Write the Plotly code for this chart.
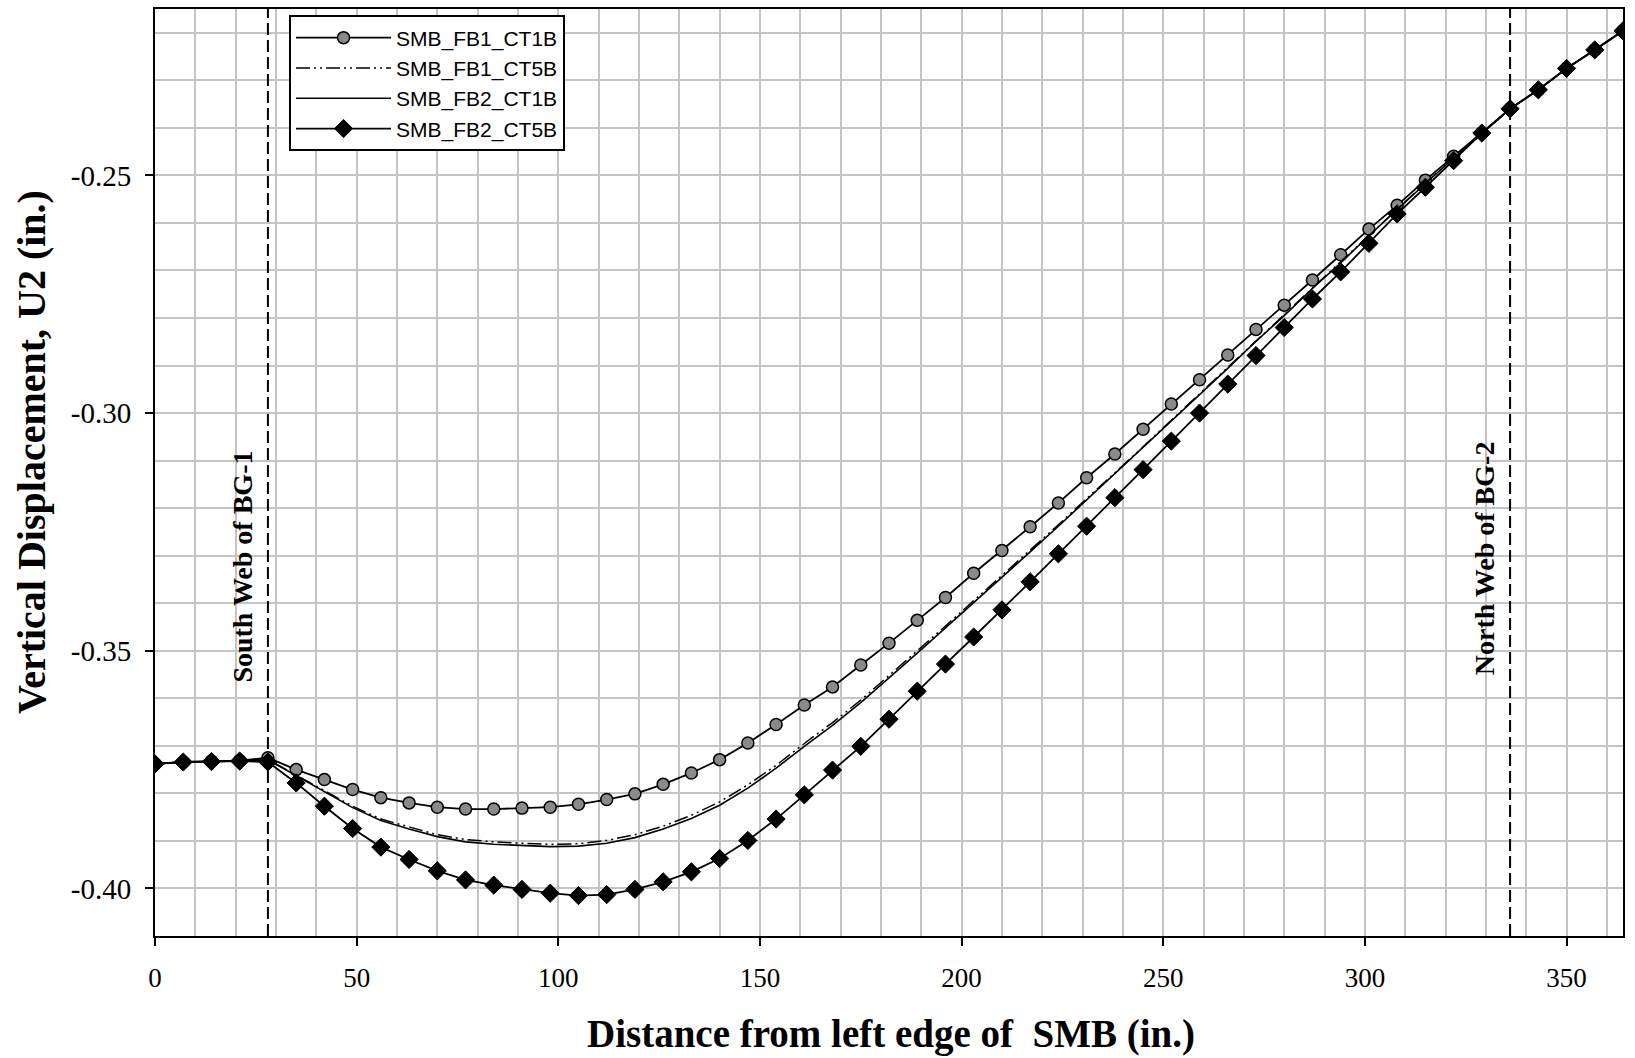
import plotly.graph_objects as go

x_in = [0, 7, 14, 21, 28, 35, 42, 49, 56, 63, 70, 77, 84, 91, 98, 105, 112, 119, 126, 133,
        140, 147, 154, 161, 168, 175, 182, 189, 196, 203, 210, 217, 224, 231, 238, 245, 252,
        259, 266, 273, 280, 287, 294, 301, 308, 315, 322, 329, 336, 343, 350, 357, 364]

fb1_ct1b = [-0.3738, -0.3734, -0.3732, -0.3731, -0.3725, -0.3750, -0.3771, -0.3792, -0.3809,
            -0.3820, -0.3829, -0.3833, -0.3833, -0.3831, -0.3829, -0.3823, -0.3813, -0.3801,
            -0.3781, -0.3757, -0.3729, -0.3694, -0.3655, -0.3614, -0.3576, -0.3530, -0.3484,
            -0.3436, -0.3388, -0.3337, -0.3289, -0.3239, -0.3189, -0.3136, -0.3086, -0.3034,
            -0.2981, -0.2930, -0.2878, -0.2824, -0.2773, -0.2720, -0.2667, -0.2613, -0.2563,
            -0.2510, -0.2460, -0.2411, -0.2360, -0.2320, -0.2275, -0.2236, -0.2196]

fb1_ct5b = [-0.3738, -0.3734, -0.3733, -0.3732, -0.3729, -0.3762, -0.3795, -0.3827, -0.3854,
            -0.3871, -0.3887, -0.3897, -0.3902, -0.3905, -0.3907, -0.3906, -0.3899, -0.3887,
            -0.3869, -0.3846, -0.3818, -0.3782, -0.3741, -0.3695, -0.3651, -0.3604, -0.3553,
            -0.3500, -0.3448, -0.3395, -0.3343, -0.3289, -0.3235, -0.3180, -0.3126, -0.3071,
            -0.3015, -0.2960, -0.2904, -0.2848, -0.2793, -0.2737, -0.2682, -0.2626, -0.2571,
            -0.2516, -0.2464, -0.2411, -0.2360, -0.2320, -0.2275, -0.2236, -0.2196]

fb2_ct1b = [-0.3738, -0.3734, -0.3733, -0.3732, -0.3729, -0.3763, -0.3797, -0.3830, -0.3857,
            -0.3875, -0.3891, -0.3902, -0.3907, -0.3910, -0.3912, -0.3911, -0.3905, -0.3893,
            -0.3875, -0.3853, -0.3825, -0.3789, -0.3747, -0.3701, -0.3657, -0.3609, -0.3558,
            -0.3505, -0.3452, -0.3399, -0.3347, -0.3292, -0.3238, -0.3183, -0.3128, -0.3073,
            -0.3017, -0.2962, -0.2906, -0.2849, -0.2795, -0.2738, -0.2684, -0.2627, -0.2571,
            -0.2517, -0.2464, -0.2411, -0.2360, -0.2320, -0.2275, -0.2236, -0.2196]

fb2_ct5b = [-0.3738, -0.3734, -0.3733, -0.3732, -0.3734, -0.3778, -0.3827, -0.3874, -0.3913,
            -0.3939, -0.3963, -0.3982, -0.3993, -0.4002, -0.4010, -0.4015, -0.4013, -0.4002,
            -0.3986, -0.3965, -0.3937, -0.3899, -0.3854, -0.3803, -0.3751, -0.3701, -0.3644,
            -0.3585, -0.3528, -0.3471, -0.3414, -0.3355, -0.3296, -0.3238, -0.3178, -0.3119,
            -0.3059, -0.3000, -0.2939, -0.2879, -0.2820, -0.2760, -0.2703, -0.2643, -0.2581,
            -0.2525, -0.2469, -0.2411, -0.2360, -0.2320, -0.2275, -0.2236, -0.2196]

web_positions = [28, 336]
web_labels = ["South Web of BG-1", "North Web of BG-2"]
web_label_x = [21.7, 329.7]
web_label_y = [-0.3324, -0.3306]

x_title = "Distance from left edge of  SMB (in.)"
y_title = "Vertical Displacement, U2 (in.)"

SERIF = "Liberation Serif, Times New Roman, serif"
SANS = "Liberation Sans, Arial, sans-serif"

fig = go.Figure()

fig.add_trace(go.Scatter(
    x=x_in, y=fb1_ct1b, name="SMB_FB1_CT1B", mode="lines+markers",
    line=dict(color="black", width=1.8),
    marker=dict(symbol="circle", size=12, color="#8a8a8a", line=dict(color="black", width=1.5)),
))
fig.add_trace(go.Scatter(
    x=x_in, y=fb1_ct5b, name="SMB_FB1_CT5B", mode="lines",
    line=dict(color="black", width=1.5, dash="14px,4px,2px,4px,2px,4px"),
))
fig.add_trace(go.Scatter(
    x=x_in, y=fb2_ct1b, name="SMB_FB2_CT1B", mode="lines",
    line=dict(color="black", width=1.6),
))
fig.add_trace(go.Scatter(
    x=x_in, y=fb2_ct5b, name="SMB_FB2_CT5B", mode="lines+markers",
    line=dict(color="black", width=1.8),
    marker=dict(symbol="diamond", size=14, color="black", line=dict(color="black", width=1)),
))

for xp in web_positions:
    fig.add_shape(type="line", xref="x", yref="paper", x0=xp, x1=xp, y0=0, y1=1,
                  line=dict(color="black", width=2, dash="12px,5px"), layer="above")

for lbl, lx, ly in zip(web_labels, web_label_x, web_label_y):
    fig.add_annotation(x=lx, y=ly, xref="x", yref="y", text="<b>%s</b>" % lbl,
                       textangle=-90, showarrow=False, xanchor="center", yanchor="middle",
                       font=dict(family=SERIF, size=28, color="black"))

fig.add_annotation(x=0.5014, y=-0.1055, xref="paper", yref="paper",
                   text="<b>%s</b>" % x_title, showarrow=False,
                   xanchor="center", yanchor="middle",
                   font=dict(family=SERIF, size=39, color="black"))
fig.add_annotation(x=-0.0845, y=0.522, xref="paper", yref="paper",
                   text="<b>%s</b>" % y_title, showarrow=False, textangle=-90,
                   xanchor="center", yanchor="middle",
                   font=dict(family=SERIF, size=40, color="black"))

grid_color = "#c4c4c4"

fig.update_xaxes(
    range=[0, 364], tickmode="linear", tick0=0, dtick=50,
    showgrid=True, gridcolor=grid_color, gridwidth=1.5,
    minor=dict(tickmode="linear", tick0=0, dtick=10, showgrid=True, gridcolor=grid_color, gridwidth=1.5),
    showline=True, linecolor="black", linewidth=2, mirror=True,
    ticks="outside", ticklen=8, tickwidth=2, tickcolor="black",
    ticklabelstandoff=9,
    tickfont=dict(family=SERIF, size=27, color="black"),
    zeroline=False,
)
fig.update_yaxes(
    range=[-0.41, -0.215], tickmode="array",
    tickvals=[-0.40, -0.35, -0.30, -0.25], ticktext=["-0.40", "-0.35", "-0.30", "-0.25"],
    showgrid=True, gridcolor=grid_color, gridwidth=1.5,
    minor=dict(tickmode="linear", tick0=-0.41, dtick=0.01, showgrid=True, gridcolor=grid_color, gridwidth=1.5),
    showline=True, linecolor="black", linewidth=2, mirror=True,
    ticks="outside", ticklen=8, tickwidth=2, tickcolor="black",
    ticklabelstandoff=8,
    tickfont=dict(family=SERIF, size=29, color="black"),
    zeroline=False,
)

fig.update_layout(
    width=1635, height=1058,
    margin=dict(l=155, r=12, t=7, b=122, pad=0),
    plot_bgcolor="white", paper_bgcolor="white",
    showlegend=True,
    legend=dict(
        x=0.0913, y=0.993, xanchor="left", yanchor="top",
        bgcolor="white", bordercolor="black", borderwidth=2,
        font=dict(family=SANS, size=21, color="black"),
        itemwidth=95, tracegroupgap=0,
    ),
)

fig.write_html("out.html", config={"displayModeBar": False},
               post_script="document.body.style.margin='0';document.body.style.overflow='hidden';")
